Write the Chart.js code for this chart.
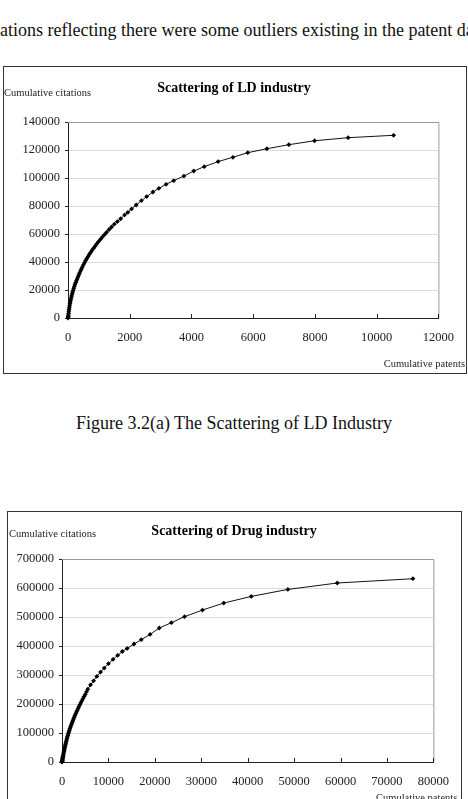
<!DOCTYPE html>
<html>
<head>
<meta charset="utf-8">
<script src="https://cdn.jsdelivr.net/npm/chart.js@4/dist/chart.umd.min.js"></script>
<style>
  html, body { margin: 0; padding: 0; background: #fff; overflow: hidden; }
  body { width: 468px; height: 799px; position: relative; font-family: "Liberation Serif", "Times New Roman", serif; color: #111; }
  .abs { position: absolute; white-space: nowrap; line-height: 1; }
  .box { position: absolute; border: 1.5px solid #333; box-sizing: border-box; }
  .ctitle { font-size: 14px; font-weight: bold; color: #000; left: 0; width: 468px; text-align: center; }
  .axcap { font-size: 10.5px; color: #222; }
  canvas { position: absolute; }
</style>
</head>
<body>
<div class="abs" style="left:0; top:21px; font-size:18px;">ations reflecting there were some outliers existing in the patent data</div>

<div class="box" style="left:3px; top:66px; width:464px; height:308px;"></div>
<canvas id="ldChart" width="463" height="306" style="left:3px; top:67px;"></canvas>
<div class="abs ctitle" style="top:80.5px;">Scattering of LD industry</div>
<div class="abs axcap" style="left:4px; top:88px;">Cumulative citations</div>
<div class="abs axcap" style="right:3px; top:358.5px;">Cumulative patents</div>

<div class="abs" style="left:0; width:468px; text-align:center; top:414px; font-size:18px;">Figure 3.2(a) The Scattering of LD Industry</div>

<div class="box" style="left:7px; top:511px; width:455px; height:320px;"></div>
<canvas id="drugChart" width="454" height="300" style="left:7px; top:512px;"></canvas>
<div class="abs ctitle" style="top:524.3px;">Scattering of Drug industry</div>
<div class="abs axcap" style="left:9px; top:528.5px;">Cumulative citations</div>
<div class="abs axcap" style="left:376px; top:793px;">Cumulative patents</div>

<script>
// LD industry: cumulative patents vs cumulative citations
const ldPatents = [0, 3, 7, 12, 18, 25, 33, 42, 52, 63, 75, 88, 102, 117, 133, 150, 168, 187, 207, 228,
  250, 273, 297, 322, 348, 375, 405, 435, 465, 500, 535, 570, 610, 650, 690, 735, 780, 830, 880, 935,
  990, 1050, 1110, 1180, 1250, 1330, 1410, 1500, 1600, 1707, 1834, 1941, 2059, 2208, 2378, 2549, 2752,
  2944, 3178, 3424, 3755, 4075, 4416, 4864, 5344, 5824, 6443, 7157, 7990, 9077, 10550];
const ldCitations = [0, 400, 1000, 2000, 3200, 4500, 5900, 7300, 8700, 10100, 11500, 12900, 14300, 15700, 17100, 18500, 19900, 21300, 22700, 24100,
  25300, 26600, 27900, 29300, 30700, 32100, 33600, 35000, 36500, 38000, 39500, 41000, 42500, 43900, 45400, 46900, 48400, 49900, 51400, 53000,
  54600, 56200, 57800, 59500, 61200, 63200, 65000, 67000, 68900, 70900, 73600, 75500, 77900, 80700, 83800, 86700, 90000,
  92600, 95500, 98100, 101400, 105000, 108100, 111700, 114800, 118100, 120900, 123800, 126600, 128800, 130500];

// Drug industry
const drugPatents = [0, 15, 30, 50, 70, 100, 130, 170, 210, 255, 300, 355, 410, 470, 530, 600, 670, 745, 820, 905,
  990, 1080, 1170, 1270, 1370, 1475, 1580, 1695, 1810, 1935, 2060, 2195, 2330, 2475, 2620, 2780, 2940, 3110, 3280, 3465,
  3650, 3850, 4050, 4275, 4500, 4750, 5000, 5275, 5550, 6150, 6800, 7500, 8300, 9100, 10000, 11000, 12000, 13000,
  14030, 15510, 17070, 18980, 20950, 23560, 26390, 30260, 34850, 40770, 48660, 59300, 75600];
const drugCitations = [0, 1200, 2500, 4200, 6000, 9000, 12000, 15500, 19000, 23000, 27000, 31500, 36000, 40500, 45000, 50000, 55000, 60000, 65000, 70500,
  76000, 81500, 87000, 92500, 98000, 103500, 109000, 114500, 120000, 125500, 131000, 136500, 142000, 148000, 154000, 160000, 166000, 172000, 178000, 184500,
  191000, 197500, 204000, 211000, 218000, 225500, 233000, 242000, 251000, 266000, 280000, 295000, 310000, 324000, 339000, 354000, 368000, 381000,
  391700, 406900, 421700, 440000, 462000, 480300, 501000, 524000, 548100, 571000, 595100, 617200, 632000];

// axis ranges: min, max, step
const ldXTicks = [0, 12000, 2000];
const ldYTicks = [0, 140000, 20000];
const drugXTicks = [0, 80000, 10000];
const drugYTicks = [0, 700000, 100000];

const plotFrame = {
  id: "plotFrame",
  beforeDatasetsDraw(chart) {
    const a = chart.chartArea;
    const ctx = chart.ctx;
    ctx.save();
    ctx.strokeStyle = "#9a9a9a";
    ctx.lineWidth = 1;
    ctx.beginPath();
    ctx.moveTo(a.left, a.top + 0.5);
    ctx.lineTo(a.right + 0.5, a.top + 0.5);
    ctx.lineTo(a.right + 0.5, a.bottom);
    ctx.stroke();
    // x tick marks pointing inward
    const xs = chart.scales.x;
    ctx.strokeStyle = "#222";
    ctx.beginPath();
    xs.ticks.forEach(t => {
      const px = Math.round(xs.getPixelForValue(t.value)) + 0.5;
      ctx.moveTo(px, a.bottom);
      ctx.lineTo(px, a.bottom - 4);
    });
    ctx.stroke();
    ctx.restore();
  }
};

function buildChart(id, xs, ys, xT, yT, yWidth, pad) {
  const points = xs.map((x, i) => ({ x: x, y: ys[i] }));
  return new Chart(document.getElementById(id), {
    type: "scatter",
    data: {
      datasets: [{
        data: points,
        showLine: true,
        borderColor: "#111",
        borderWidth: 1,
        pointStyle: "rectRot",
        pointRadius: 2.4,
        pointBorderWidth: 0,
        pointBackgroundColor: "#000",
        clip: false
      }]
    },
    options: {
      responsive: false,
      animation: false,
      layout: { padding: pad },
      plugins: { legend: { display: false }, tooltip: { enabled: false } },
      scales: {
        x: {
          type: "linear",
          min: xT[0], max: xT[1],
          ticks: {
            stepSize: xT[2], padding: 12, color: "#222",
            font: { family: "Liberation Serif", size: 12.5 },
            callback: v => String(v)
          },
          grid: { drawOnChartArea: false, drawTicks: false },
          border: { color: "#222", width: 1 },
          afterFit: s => { s.height = 30; }
        },
        y: {
          min: yT[0], max: yT[1],
          ticks: {
            stepSize: yT[2], padding: 5, color: "#222",
            font: { family: "Liberation Serif", size: 12.5 },
            callback: v => String(v)
          },
          grid: {
            color: c => (c.tick && c.tick.value === 0) ? "rgba(0,0,0,0)" : "#dcdcdc",
            tickColor: "#222", tickLength: 3
          },
          border: { color: "#222", width: 1 },
          afterFit: s => { s.width = yWidth; }
        }
      }
    },
    plugins: [plotFrame]
  });
}

buildChart("ldChart", ldPatents, ldCitations, ldXTicks, ldYTicks, 65, { top: 55, right: 23, bottom: 25, left: 0 });
buildChart("drugChart", drugPatents, drugCitations, drugXTicks, drugYTicks, 55, { top: 47, right: 20, bottom: 20, left: 0 });
</script>
</body>
</html>
